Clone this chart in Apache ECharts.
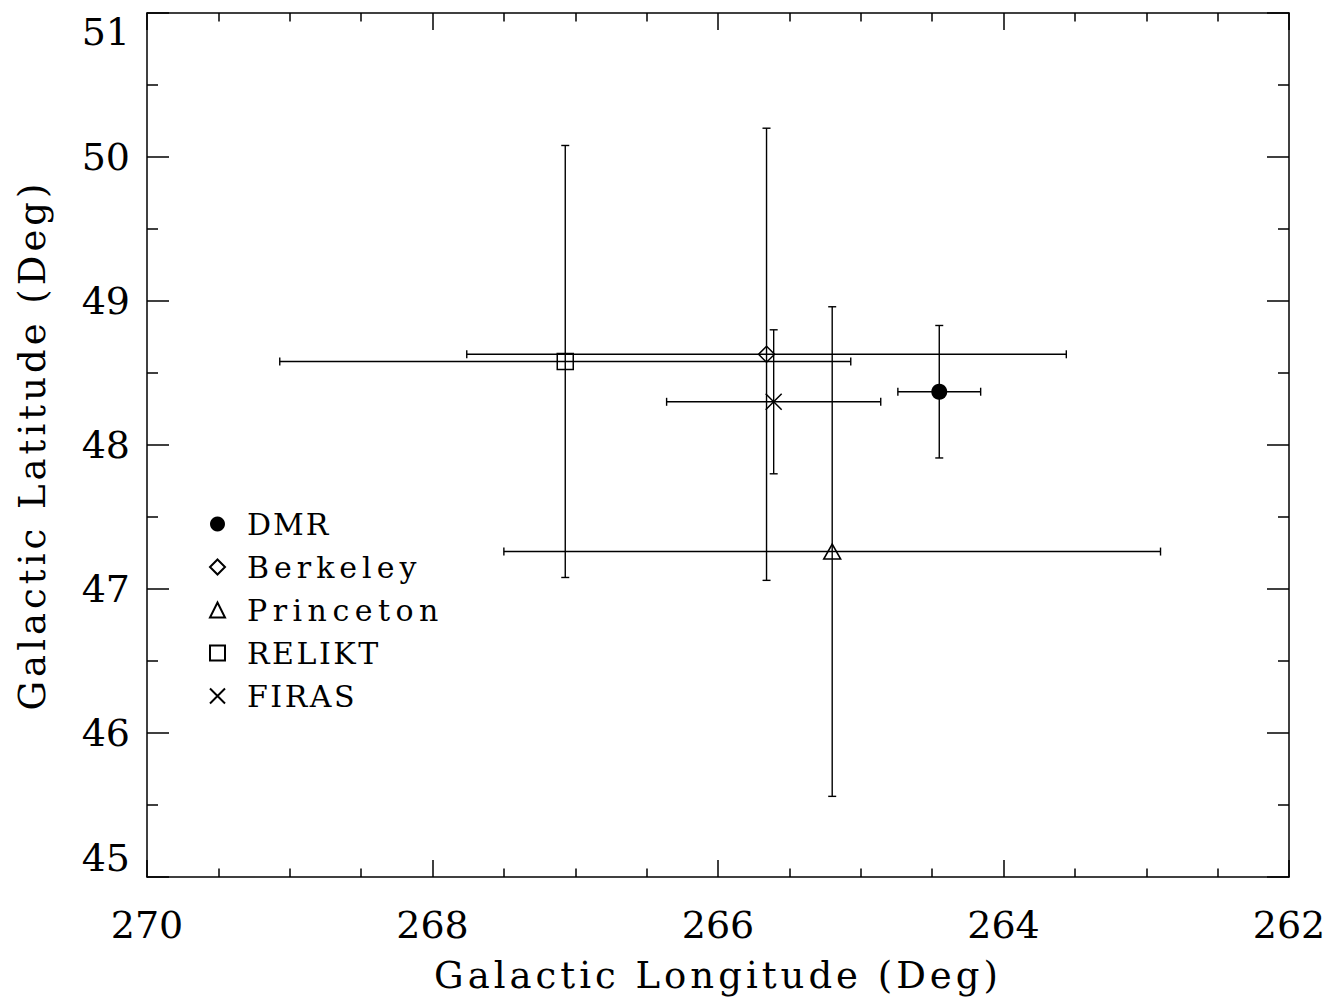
<!DOCTYPE html>
<html>
<head>
<meta charset="utf-8">
<script src="https://cdn.jsdelivr.net/npm/echarts@6/dist/echarts.min.js"></script>
<style>
html,body{margin:0;padding:0;background:#fff;}
#chart{width:1343px;height:1002px;}
</style>
</head>
<body>
<div id="chart"></div>
<script>
const names = ['DMR', 'Berkeley', 'Princeton', 'RELIKT', 'FIRAS'];
const lon = [264.45, 265.66, 265.20, 267.07, 265.61];
const lat = [48.37, 48.63, 47.26, 48.58, 48.30];
const lonErr = [0.29, 2.10, 2.30, 2.00, 0.75];
const latErr = [0.46, 1.57, 1.70, 1.50, 0.50];
const symbols = ['circle', 'diamond', 'triangle', 'rect', 'path://M0 0L10 10M10 0L0 10'];
const filled = [true, false, false, false, false];
const xTitle = 'Galactic Longitude (Deg)';
const yTitle = 'Galactic Latitude (Deg)';

const FONT = 'DejaVu Serif';
const chart = echarts.init(document.getElementById('chart'), null, { renderer: 'svg' });

const errData = names.map((n, i) => [lon[i], lat[i], lonErr[i], latErr[i]]);

function renderErr(params, api) {
  const x = api.value(0), y = api.value(1), ex = api.value(2), ey = api.value(3);
  const l = api.coord([x - ex, y]);
  const r = api.coord([x + ex, y]);
  const t = api.coord([x, y + ey]);
  const b = api.coord([x, y - ey]);
  const cap = 4;
  const st = { stroke: '#000', lineWidth: 1.4 };
  return {
    type: 'group',
    children: [
      { type: 'line', shape: { x1: l[0], y1: l[1], x2: r[0], y2: r[1] }, style: st },
      { type: 'line', shape: { x1: l[0], y1: l[1] - cap, x2: l[0], y2: l[1] + cap }, style: st },
      { type: 'line', shape: { x1: r[0], y1: r[1] - cap, x2: r[0], y2: r[1] + cap }, style: st },
      { type: 'line', shape: { x1: t[0], y1: t[1], x2: b[0], y2: b[1] }, style: st },
      { type: 'line', shape: { x1: t[0] - cap, y1: t[1], x2: t[0] + cap, y2: t[1] }, style: st },
      { type: 'line', shape: { x1: b[0] - cap, y1: b[1], x2: b[0] + cap, y2: b[1] }, style: st }
    ]
  };
}

const axisLineStyle = { show: true, lineStyle: { color: '#000', width: 1.5 } };

const xCommon = {
  type: 'value', min: 262, max: 270, interval: 2, inverse: true,
  axisLine: axisLineStyle,
  axisTick: { show: true, inside: true, length: 17, lineStyle: { color: '#000', width: 1.5 } },
  minorTick: { show: true, splitNumber: 4, length: 8.5, lineStyle: { color: '#000', width: 1.5 } },
  splitLine: { show: false }
};
const yCommon = {
  type: 'value', min: 45, max: 51, interval: 1,
  axisLine: axisLineStyle,
  axisTick: { show: true, inside: true, length: 22, lineStyle: { color: '#000', width: 1.5 } },
  minorTick: { show: true, splitNumber: 2, length: 11, lineStyle: { color: '#000', width: 1.5 } },
  splitLine: { show: false }
};

const series = [{
  type: 'custom',
  renderItem: renderErr,
  data: errData,
  z: 1,
  silent: true
}];
names.forEach((n, i) => {
  series.push({
    name: n,
    type: 'scatter',
    symbol: symbols[i],
    symbolSize: i === 2 ? [17, 15] : 16,
    data: [[lon[i], lat[i]]],
    z: 3,
    itemStyle: filled[i]
      ? { color: '#000', borderColor: '#000', borderWidth: 0, opacity: 1 }
      : { color: 'rgba(0,0,0,0)', borderColor: '#000', borderWidth: 1.5, opacity: 1 }
  });
});

chart.setOption({
  animation: false,
  backgroundColor: '#fff',
  grid: { left: 147, right: 54, top: 13, bottom: 125, outerBoundsMode: 'none', containLabel: false },
  legend: {
    orient: 'vertical',
    left: 204,
    top: 504,
    itemWidth: 15,
    itemHeight: 15,
    itemGap: 13,
    data: names,
    textStyle: { fontFamily: FONT, fontSize: 30, color: '#000', lineHeight: 30, padding: [0, 0, 0, 17] }
  },
  xAxis: [
    Object.assign({}, xCommon, {
      position: 'bottom',
      name: xTitle,
      nameLocation: 'middle',
      nameGap: 80,
      nameTextStyle: { fontFamily: FONT, fontSize: 37, color: '#000' },
      axisLabel: { fontFamily: FONT, fontSize: 38, color: '#000', margin: 29 }
    }),
    Object.assign({}, xCommon, { position: 'top', axisLabel: { show: false } })
  ],
  yAxis: [
    Object.assign({}, yCommon, {
      position: 'left',
      name: yTitle,
      nameLocation: 'middle',
      nameGap: 96,
      nameTextStyle: { fontFamily: FONT, fontSize: 37, color: '#000' },
      axisLabel: {
        fontFamily: FONT, fontSize: 38, color: '#000', margin: 17,
        verticalAlignMinLabel: 'bottom',
        verticalAlignMaxLabel: 'top'
      }
    }),
    Object.assign({}, yCommon, { position: 'right', axisLabel: { show: false } })
  ],
  series: series
});

// widen spacing of title and legend text to match the reference's typeface
const spacing = {};
spacing[xTitle] = 4;
spacing[yTitle] = 4;
spacing['DMR'] = 2;
spacing['Berkeley'] = 5;
spacing['Princeton'] = 5.5;
spacing['RELIKT'] = 2.5;
spacing['FIRAS'] = 2.5;
function applySpacing() {
  document.querySelectorAll('#chart text').forEach(function (el) {
    const s = spacing[el.textContent.trim()];
    if (s !== undefined) {
      el.setAttribute('letter-spacing', String(s));
    }
  });
}
applySpacing();
chart.on('finished', applySpacing);
setTimeout(applySpacing, 50);
</script>
</body>
</html>
